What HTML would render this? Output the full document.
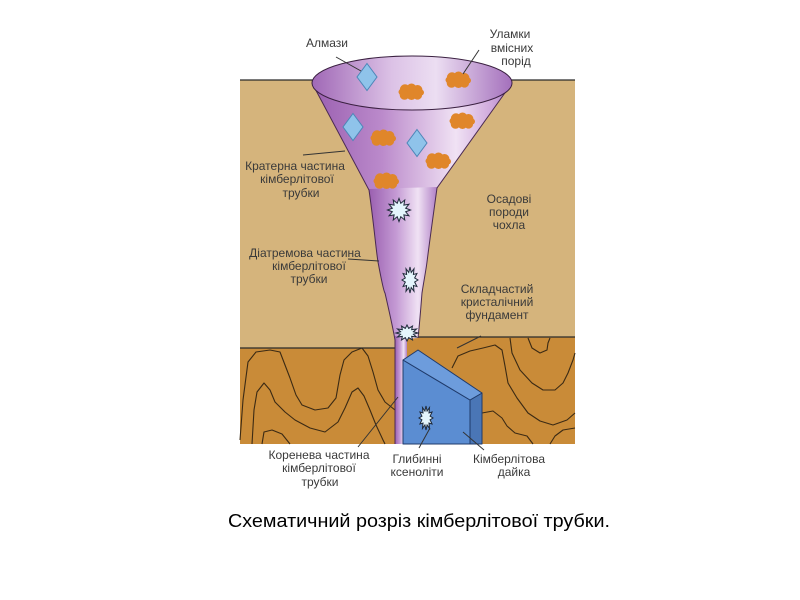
<!DOCTYPE html>
<html><head><meta charset="utf-8"><style>
html,body{margin:0;padding:0;background:#fff;}
svg{display:block;}
text{font-family:"Liberation Sans","DejaVu Sans",sans-serif;}
</style></head><body>
<svg width="800" height="600" viewBox="0 0 800 600" xmlns="http://www.w3.org/2000/svg">
<defs>
<linearGradient id="gCrater" x1="0" y1="0" x2="1" y2="0">
<stop offset="0" stop-color="#9a5fb0"/><stop offset="0.35" stop-color="#bb8acb"/><stop offset="0.72" stop-color="#f0e2f4"/><stop offset="0.9" stop-color="#cfa8dc"/><stop offset="1" stop-color="#a878bf"/>
</linearGradient>
<linearGradient id="gTube" x1="0" y1="0" x2="1" y2="0">
<stop offset="0" stop-color="#9a5fb0"/><stop offset="0.4" stop-color="#c49ad4"/><stop offset="0.72" stop-color="#f0e2f4"/><stop offset="1" stop-color="#b080c6"/>
</linearGradient>
<linearGradient id="gTop" x1="0" y1="0" x2="1" y2="0">
<stop offset="0" stop-color="#a068b6"/><stop offset="0.4" stop-color="#dcc2e6"/><stop offset="0.62" stop-color="#ecdef2"/><stop offset="1" stop-color="#a470bc"/>
</linearGradient>
<g id="blob">
<circle cx="-6" cy="-2.5" r="5.2"/><circle cx="0.5" cy="-3.5" r="5"/><circle cx="6.5" cy="-2" r="5"/><circle cx="-6.5" cy="3" r="4.8"/><circle cx="0.5" cy="3" r="5"/><circle cx="6.5" cy="3" r="4.6"/><circle cx="-9.5" cy="0" r="3"/><circle cx="10" cy="0.5" r="3"/>
</g>
<polygon id="diam" points="0,-13.5 10,0 0,13.5 -10,0"/>
</defs>

<!-- ground -->
<rect x="240" y="80" width="335" height="268" fill="#d5b47c"/>
<rect x="240" y="348" width="160" height="96" fill="#c98b38"/>
<rect x="400" y="337" width="175" height="107" fill="#c98b38"/>
<rect x="240" y="337" width="160" height="11" fill="#d5b47c"/>

<!-- contour lines -->
<g fill="none" stroke="#3b2a14" stroke-width="1.1" stroke-linejoin="round">
<path d="M240,440 L243,400 L248,362 L256,352 L270,350 L280,352 L285,365 L290,378 L296,395 L302,405 L315,410 L328,408 L336,398 L340,375 L344,360 L352,352 L362,348 L368,356 L373,372 L378,390 L385,402 L395,410"/>
<path d="M252,444 L254,410 L257,392 L264,383 L270,390 L275,402 L285,412 L295,420 L310,428 L325,432 L338,422 L345,408 L352,392 L358,388 L364,396 L370,410 L376,425 L383,440 L385,444"/>
<path d="M262,444 L264,432 L272,430 L282,434 L290,444"/>
<path d="M452,368 L458,356 L470,351 L483,348 L495,345 L502,350 L505,366 L508,383 L517,398 L528,413 L540,421 L553,425 L567,420 L575,413"/>
<path d="M510,338 L512,353 L520,370 L532,383 L543,390 L555,390 L563,383 L568,373 L573,360 L575,353"/>
<path d="M528,338 L532,348 L540,353 L547,350 L548,343 L550,338"/>
<path d="M482,413 L493,411 L502,418 L507,426 L515,433 L527,436 L533,444"/>
<path d="M550,444 L555,436 L563,430 L575,428"/>
</g>

<!-- surface & boundary lines -->
<g stroke="#2a2a2a" stroke-width="1.3">
<line x1="240" y1="80" x2="313" y2="80"/>
<line x1="511" y1="80" x2="575" y2="80"/>
<line x1="240" y1="348" x2="396" y2="348"/>
<line x1="418" y1="337" x2="575" y2="337"/>
</g>

<!-- funnel body -->
<path d="M312,83 L369,190 L437,188 L512,83 A100,27 0 0 0 312,83 Z" fill="url(#gCrater)"/>
<path d="M369,189 C374,225 376,250 378,262 C381,278 384,292 385,293 C390,315 393,328 395,340 L418,338 C420,320 421,305 422,293 C424,280 426,270 427,262 C430,238 434,210 437,187 Z" fill="url(#gTube)"/>
<rect x="395" y="336" width="12" height="108" fill="url(#gTube)"/>
<g fill="none" stroke="#4a2a52" stroke-width="1">
<path d="M312,83 L369,190 C374,225 376,250 378,262 C381,278 384,292 385,293 C390,315 393,328 395,340 L395,444"/>
<path d="M512,83 L437,188 C434,210 430,238 427,262 C426,270 424,280 422,293 C421,305 420,320 418,338"/>
</g>
<ellipse cx="412" cy="83" rx="100" ry="27" fill="url(#gTop)" stroke="#3a2040" stroke-width="1"/>

<!-- orange fragments -->
<g fill="#e0862a">
<use href="#blob" x="411" y="92"/>
<use href="#blob" x="458" y="80"/>
<use href="#blob" x="462" y="121"/>
<use href="#blob" x="383" y="138"/>
<use href="#blob" x="438" y="161"/>
<use href="#blob" x="386" y="181"/>
</g>

<!-- diamonds -->
<g fill="#8fc3ea" stroke="#4d86b8" stroke-width="1">
<use href="#diam" x="367" y="77"/>
<use href="#diam" x="353" y="127"/>
<use href="#diam" x="417" y="143"/>
</g>

<!-- stars -->
<g fill="#e4f5fc" stroke="#1f2a3a" stroke-width="1" stroke-linejoin="miter">
<g transform="translate(399,210) scale(1.15) translate(-398,-208)" stroke-width="0.87">
<polygon points="408,208 403.8,209.55 406.66,213 402.24,212.24 403,216.66 399.55,213.8 398,218 396.45,213.8 393,216.66 393.76,212.24 389.34,213 392.2,209.55 388,208 392.2,206.45 389.34,203 393.76,203.76 393,199.34 396.45,202.2 398,198 399.55,202.2 403,199.34 402.24,203.76 406.66,203 403.8,206.45"/>
</g>
<polygon points="418,280 414.64,282.02 416.93,286.5 413.39,285.51 414,291.26 411.24,287.54 410,293 408.76,287.54 406,291.26 406.61,285.51 403.07,286.5 405.36,282.02 402,280 405.36,277.98 403.07,273.5 406.61,274.49 406,268.74 408.76,272.46 410,267 411.24,272.46 414,268.74 413.39,274.49 416.93,273.5 414.64,277.98"/>
<polygon points="418,333 413.38,334.24 416.53,337 411.66,336.39 412.5,339.93 408.71,337.64 407,341 405.29,337.64 401.5,339.93 402.34,336.39 397.47,337 400.62,334.24 396,333 400.62,331.76 397.47,329 402.34,329.61 401.5,326.07 405.29,328.36 407,325 408.71,328.36 412.5,326.07 411.66,329.61 416.53,329 413.38,331.76"/>
</g>

<!-- dyke -->
<g stroke="#1f3a6a" stroke-width="1" stroke-linejoin="round">
<polygon points="403,360 470,400 470,444 403,444" fill="#5b8dd2"/>
<polygon points="470,400 482,393 482,444 470,444" fill="#4a76b6"/>
<polygon points="403,360 418,350 482,393 470,400" fill="#6d9cdc"/>
</g>
<polygon fill="#e4f5fc" stroke="#1f2a3a" stroke-width="1" points="433,418 430.06,419.86 432.06,424 428.97,423.09 429.5,428.39 427.09,424.96 426,430 424.91,424.96 422.5,428.39 423.03,423.09 419.94,424 421.94,419.86 419,418 421.94,416.14 419.94,412 423.03,412.91 422.5,407.61 424.91,411.04 426,406 427.09,411.04 429.5,407.61 428.97,412.91 432.06,412 430.06,416.14"/>

<!-- leader lines -->
<g stroke="#333" stroke-width="1">
<line x1="336" y1="57" x2="361" y2="71"/>
<line x1="479" y1="50" x2="463" y2="74"/>
<line x1="303" y1="155" x2="345" y2="151"/>
<line x1="348" y1="259" x2="379" y2="261"/>
<line x1="481" y1="336" x2="457" y2="348"/>
<line x1="358" y1="447" x2="398" y2="397"/>
<line x1="419" y1="448" x2="430" y2="428"/>
<line x1="463" y1="432" x2="484" y2="450"/>
</g>

<!-- labels -->
<g font-size="12" fill="#3a3a3a" text-anchor="middle">
<text x="327" y="47">Алмази</text>
<text x="510" y="38">Уламки</text>
<text x="512" y="52">вмісних</text>
<text x="516" y="65">порід</text>
<text x="295" y="170">Кратерна частина</text>
<text x="297" y="183">кімберлітової</text>
<text x="301" y="197">трубки</text>
<text x="509" y="203">Осадові</text>
<text x="509" y="216">породи</text>
<text x="509" y="229">чохла</text>
<text x="305" y="257">Діатремова частина</text>
<text x="309" y="270">кімберлітової</text>
<text x="309" y="283">трубки</text>
<text x="497" y="293">Складчастий</text>
<text x="497" y="306">кристалічний</text>
<text x="497" y="319">фундамент</text>
<text x="319" y="459">Коренева частина</text>
<text x="319" y="472">кімберлітової</text>
<text x="320" y="486">трубки</text>
<text x="417" y="463">Глибинні</text>
<text x="417" y="476">ксеноліти</text>
<text x="509" y="463">Кімберлітова</text>
<text x="514" y="476">дайка</text>
</g>

<text x="228" y="527" font-size="18.5" fill="#000" textLength="382" lengthAdjust="spacingAndGlyphs">Схематичний розріз кімберлітової трубки.</text>
</svg>
</body></html>
